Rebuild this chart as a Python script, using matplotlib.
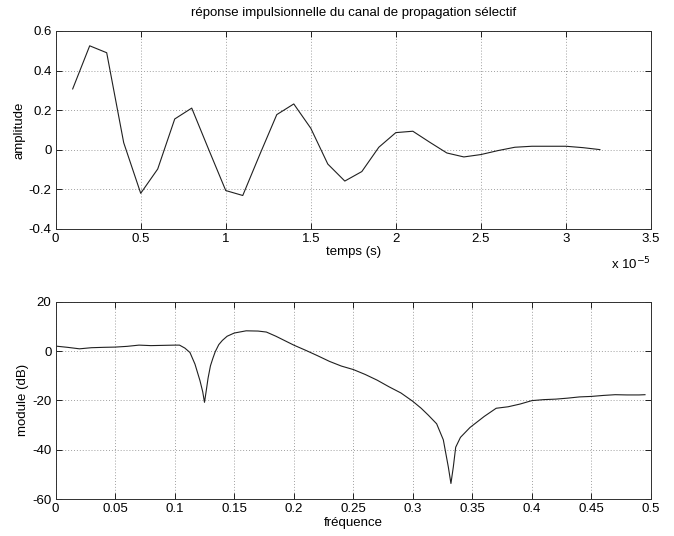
import numpy as np
import matplotlib
matplotlib.use("Agg")
import matplotlib.pyplot as plt

plt.rcParams['font.family'] = ['Liberation Sans', 'DejaVu Sans']

# --- impulse response data ---
t_us = [0.1, 0.2, 0.3, 0.4, 0.5, 0.6, 0.7, 0.8, 0.9, 1.0, 1.1, 1.2, 1.3, 1.4, 1.5, 1.6,
        1.7, 1.8, 1.9, 2.0, 2.1, 2.2, 2.3, 2.4, 2.5, 2.6, 2.7, 2.8, 2.9, 3.0, 3.1, 3.2]
amplitude = [0.307, 0.525, 0.49, 0.035, -0.221, -0.098, 0.155, 0.21, 0.0, -0.207, -0.232,
             -0.025, 0.177, 0.231, 0.108, -0.073, -0.159, -0.111, 0.012, 0.086, 0.093,
             0.037, -0.017, -0.037, -0.025, -0.005, 0.012, 0.017, 0.017, 0.017, 0.01, 0.0]
t_ticks = [0, 0.5, 1, 1.5, 2, 2.5, 3, 3.5]
t_ticklabels = ['0', '0.5', '1', '1.5', '2', '2.5', '3', '3.5']

# --- frequency response data ---
freq = [0.0, 0.01, 0.02, 0.03, 0.04, 0.05, 0.06, 0.07, 0.08, 0.09, 0.1, 0.104, 0.1085,
        0.1128, 0.117, 0.1212, 0.1235, 0.125, 0.1265, 0.128, 0.13, 0.132, 0.134, 0.137,
        0.14, 0.144, 0.15, 0.16, 0.17, 0.177, 0.185, 0.195, 0.2, 0.21, 0.22, 0.23, 0.24,
        0.25, 0.26, 0.27, 0.28, 0.29, 0.3, 0.307, 0.313, 0.32, 0.3256, 0.3298, 0.332,
        0.334, 0.336, 0.34, 0.348, 0.36, 0.37, 0.38, 0.39, 0.4, 0.41, 0.42, 0.43, 0.44,
        0.45, 0.46, 0.47, 0.48, 0.49, 0.495]
module_db = [2.0, 1.5, 0.9, 1.35, 1.5, 1.6, 1.9, 2.4, 2.2, 2.3, 2.4, 2.4, 1.2,
             -0.6, -5.3, -12.0, -16.5, -20.8, -16.0, -11.0, -6.0, -3.0, -0.3, 2.6,
             4.3, 6.0, 7.3, 8.2, 8.1, 7.7, 6.0, 3.6, 2.4, 0.3, -1.9, -4.2, -6.1,
             -7.5, -9.5, -11.8, -14.5, -17.0, -20.4, -23.2, -26.0, -29.5, -36.0, -47.0, -53.7,
             -47.0, -39.0, -35.0, -31.0, -26.5, -23.2, -22.6, -21.5, -20.1, -19.7, -19.5, -19.1, -18.6,
             -18.4, -18.0, -17.7, -17.8, -17.8, -17.7]

fig = plt.figure(figsize=(6.74, 5.36), dpi=100)
ax1 = fig.add_axes([0.0826, 0.5733, 0.8832, 0.3689])
ax2 = fig.add_axes([0.0826, 0.0690, 0.8832, 0.3681])

fs = 9.5
line_kw = dict(color='#202020', lw=0.8)
grid_kw = dict(color='#a0a0a0', linestyle=(0, (1, 2)), linewidth=0.7)

t_sec = np.array(t_us) * 1e-5
ax1.plot(t_sec, amplitude, **line_kw)
ax1.set_xlim(0, 3.5e-5)
ax1.set_ylim(-0.4, 0.6)
ax1.set_xticks(np.array(t_ticks) * 1e-5)
ax1.set_xticklabels(t_ticklabels)
ax1.set_yticks([-0.4, -0.2, 0, 0.2, 0.4, 0.6])
ax1.set_yticklabels(['-0.4', '-0.2', '0', '0.2', '0.4', '0.6'])
ax1.set_title('réponse impulsionnelle du canal de propagation sélectif', fontsize=fs, pad=11)
ax1.set_xlabel('temps (s)', fontsize=fs, labelpad=1)
ax1.set_ylabel('amplitude', fontsize=fs, labelpad=2)
ax1.text(1.0, -0.135, r'x 10$^{-5}$', transform=ax1.transAxes, ha='right', va='top', fontsize=fs)

ax2.plot(freq, module_db, **line_kw)
ax2.set_xlim(0, 0.5)
ax2.set_ylim(-60, 20)
ax2.set_xticks([0, 0.05, 0.1, 0.15, 0.2, 0.25, 0.3, 0.35, 0.4, 0.45, 0.5])
ax2.set_xticklabels(['0', '0.05', '0.1', '0.15', '0.2', '0.25', '0.3', '0.35', '0.4', '0.45', '0.5'])
ax2.set_yticks([-60, -40, -20, 0, 20])
ax2.set_yticklabels(['-60', '-40', '-20', '0', '20'])
ax2.set_xlabel('fréquence', fontsize=fs, labelpad=1)
ax2.set_ylabel('module (dB)', fontsize=fs, labelpad=2)

for ax in (ax1, ax2):
    ax.grid(True, **grid_kw)
    ax.tick_params(direction='in', top=True, right=True, length=4, width=0.6,
                   labelsize=fs, pad=3, colors='black')
    for s in ax.spines.values():
        s.set_linewidth(0.7)
        s.set_color('#303030')

fig.savefig('out.png', dpi=100)
